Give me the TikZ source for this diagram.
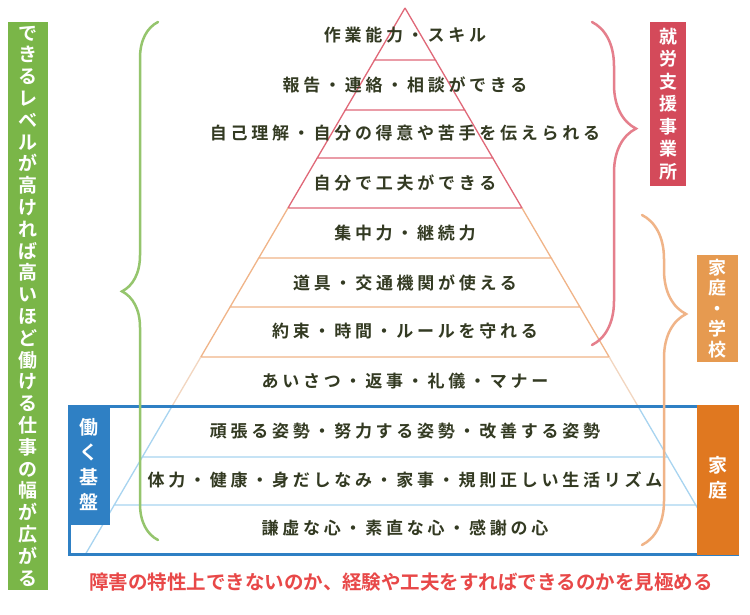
\documentclass[tikz,border=0pt]{standalone}
\usepackage{fontspec}
\setmainfont{Noto Sans CJK JP}[BoldFont={Noto Sans CJK JP Bold}]
\usetikzlibrary{decorations.pathreplacing}
\definecolor{tx}{HTML}{333a22}
\definecolor{rr}{HTML}{e06878}
\definecolor{oo}{HTML}{f0b488}
\definecolor{tt}{HTML}{f2d6c0}
\definecolor{bb}{HTML}{a8d4f0}
\definecolor{gbar}{HTML}{7ab648}
\definecolor{rbox}{HTML}{d44a5a}
\definecolor{obox}{HTML}{e69a50}
\definecolor{obox2}{HTML}{e07820}
\definecolor{blu}{HTML}{2f80c4}
\definecolor{ttxt}{HTML}{e84848}
\begin{document}
\begin{tikzpicture}[x=1pt,y=1pt,yscale=-1,
  rowtxt/.style={font=\fontsize{17}{17}\selectfont\bfseries\addfontfeature{LetterSpace=22}, text=tx},
  vtxt/.style={text=white, align=center, font=\bfseries},
  brc/.style={decorate, line width=2.5pt, line cap=round}]
\useasboundingbox (0,0) rectangle (750,614);
\fill[white] (0,0) rectangle (750,614);
% pyramid rows
\def\hw#1{0.585*(#1-8)}
\foreach \ya/\yb/\c in {8/60/rr,60/110/rr,110/158/rr,158/208/rr,208/258/oo,258/307/oo,307/357/oo,357/407/tt,407/457/bb,457/505/bb,505/555/bb}{
  \draw[\c, line width=1.3pt] ({405-\hw{\ya}},\ya) -- ({405-\hw{\yb}},\yb) -- ({405+\hw{\yb}},\yb) -- ({405+\hw{\ya}},\ya);
}
\foreach \y/\t [count=\i] in {35/作業能力・スキル,85/報告・連絡・相談ができる,133/自己理解・自分の得意や苦手を伝えられる,183/自分で工夫ができる,233/集中力・継続力,283/道具・交通機関が使える,331/約束・時間・ルールを守れる,381/あいさつ・返事・礼儀・マナー,431/頑張る姿勢・努力する姿勢・改善する姿勢,480/体力・健康・身だしなみ・家事・規則正しい生活リズム,528/謙虚な心・素直な心・感謝の心}{
  \node[rowtxt] (r\i) at (405,\y) {\t};
}
% blue frame
\draw[blu, line width=3pt] (69,406) rectangle (737,554);
\fill[blu] (68,405) rectangle (110,525);
\node[vtxt, font=\fontsize{19}{25}\selectfont\bfseries] (kiban) at (89,465) {働\\く\\基\\盤};
\fill[obox2] (697,405) rectangle (739,555);
\node[vtxt, font=\fontsize{19}{25}\selectfont\bfseries] (katei) at (718,478) {家\\庭};
% green bar
\fill[gbar] (8,22) rectangle (48,590);
\node[vtxt, font=\fontsize{19}{21.8}\selectfont\bfseries] (gtxt) at (28,306) {で\\き\\る\\レ\\ベ\\ル\\が\\高\\け\\れ\\ば\\高\\い\\ほ\\ど\\働\\け\\る\\仕\\事\\の\\幅\\が\\広\\が\\る};
% red box
\fill[rbox] (650,22) rectangle (686,186);
\node[vtxt, font=\fontsize{18}{22.5}\selectfont\bfseries] (shuro) at (668,104) {就\\労\\支\\援\\事\\業\\所};
% orange box
\fill[obox] (697,255) rectangle (738,362);
\node[vtxt, font=\fontsize{18}{20.5}\selectfont\bfseries] (gakko) at (717.5,308.5) {家\\庭\\・\\学\\校};
% braces
\coordinate (g1) at (158,540); \coordinate (g2) at (158,22);
\draw[brc, gbar!80!white, decoration={brace, amplitude=36pt, aspect=0.48}] (g1) -- (g2);
\coordinate (p1) at (592,22); \coordinate (p2) at (592,345);
\draw[brc, rr!85!white, decoration={brace, amplitude=44pt, aspect=0.33}] (p1) -- (p2);
\coordinate (o1) at (642,215); \coordinate (o2) at (642,545);
\draw[brc, oo, decoration={brace, amplitude=44pt, aspect=0.3}] (o1) -- (o2);
% bottom text
\node[text=ttxt, font=\fontsize{19.5}{19.5}\selectfont\bfseries] (btm) at (401,582) {障害の特性上できないのか、経験や工夫をすればできるのかを見極める};
\end{tikzpicture}
\end{document}
